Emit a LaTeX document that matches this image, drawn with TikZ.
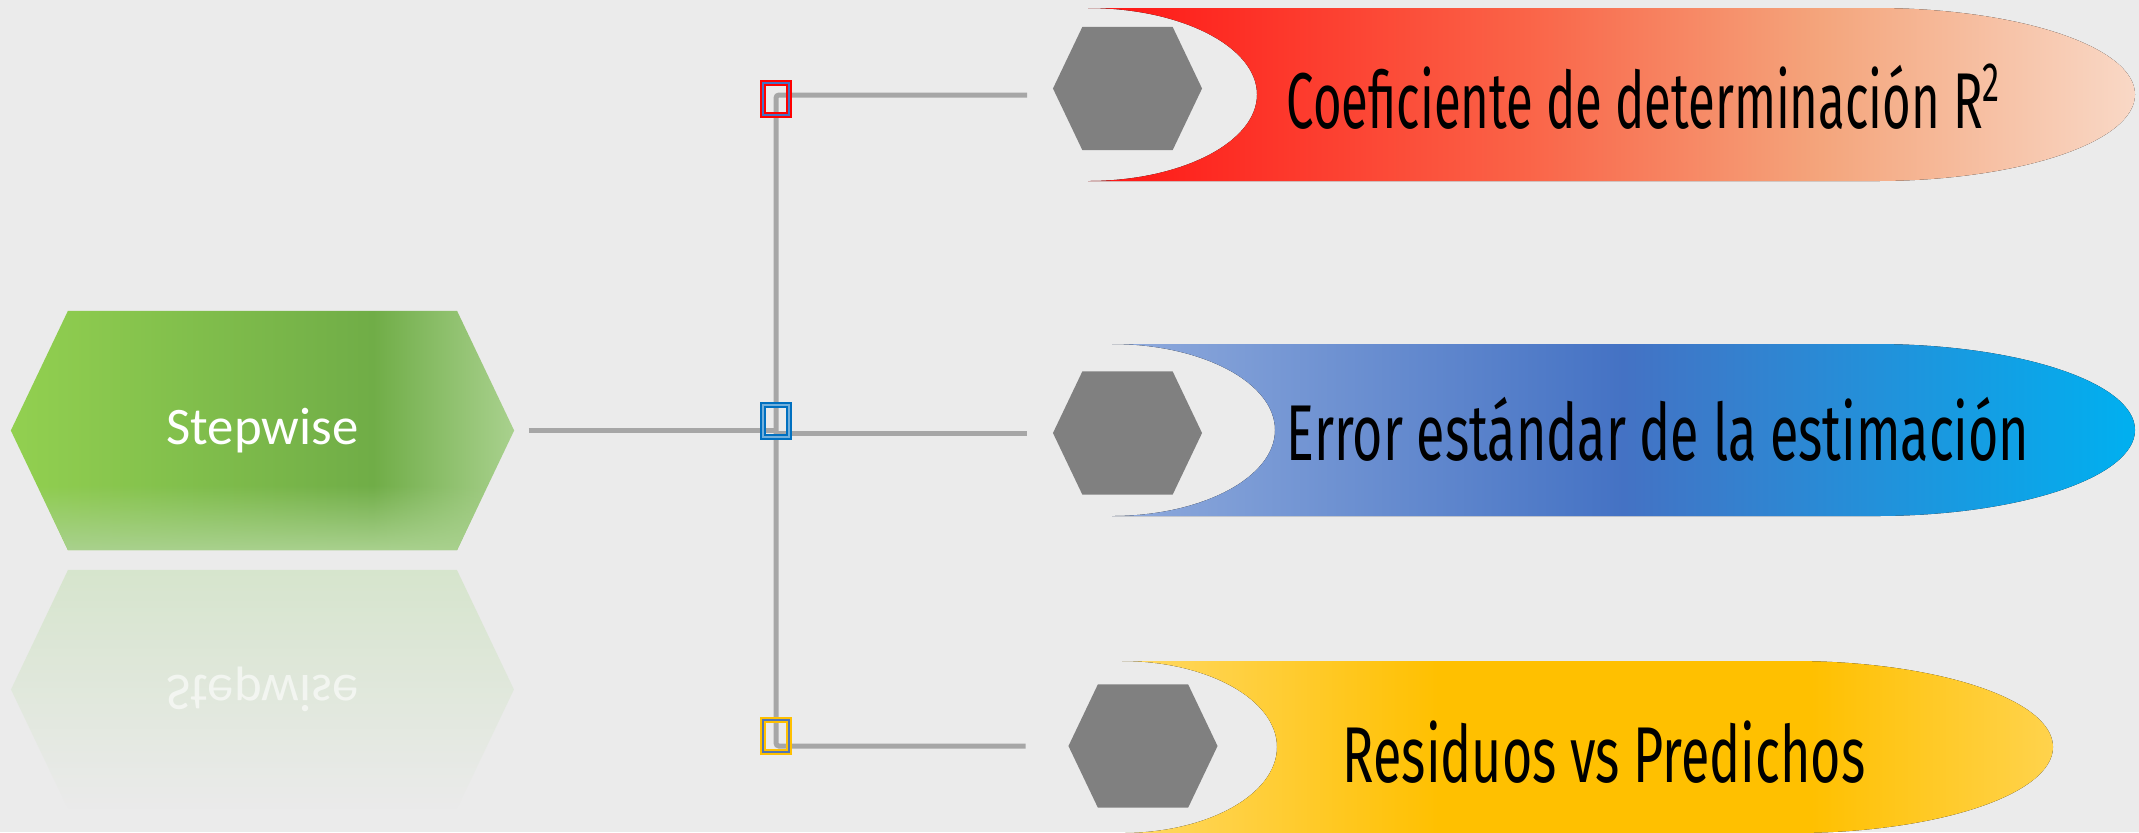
\documentclass[tikz,border=0pt]{standalone}
\usepackage{fontspec}
\setmainfont{Carlito}
\newfontfamily\bannerfont[FakeStretch=0.62]{Fira Sans}
\usetikzlibrary{shapes.symbols,fadings,backgrounds,positioning}

\definecolor{bgGray}{RGB}{235,235,235}
\definecolor{lnGray}{RGB}{166,166,166}
\definecolor{hexGray}{RGB}{128,128,128}
\definecolor{gA}{HTML}{92D050}
\definecolor{gB}{HTML}{70AD47}
\definecolor{gC}{HTML}{A9D18E}
\definecolor{gPale}{HTML}{A9D18E}
\definecolor{gRefl}{HTML}{C5E0B4}
\definecolor{mkRed}{HTML}{FF0000}
\definecolor{mkBlue}{HTML}{0070C0}
\definecolor{mkYel}{HTML}{FFC000}
\definecolor{mkIn}{HTML}{4472C4}
\definecolor{rA}{HTML}{FF1414}
\definecolor{rB}{HTML}{FA6448}
\definecolor{rC}{HTML}{F4A57C}
\definecolor{rD}{HTML}{F9D8C6}
\definecolor{bA}{HTML}{8FAADC}
\definecolor{bC}{HTML}{00B0F0}

% Shadings of the banners
\pgfdeclarehorizontalshading{redband}{100bp}{color(0bp)=(rA); color(25bp)=(rA); color(46bp)=(rB); color(60bp)=(rC); color(75bp)=(rD); color(100bp)=(rD)}
\pgfdeclarehorizontalshading{blueband}{100bp}{color(0bp)=(bA); color(25bp)=(bA); color(50bp)=(mkIn); color(75bp)=(bC); color(100bp)=(bC)}
\pgfdeclarehorizontalshading{yelband}{100bp}{color(0bp)=(mkYel!60!white); color(25bp)=(mkYel!60!white); color(42bp)=(mkYel); color(62bp)=(mkYel); color(75bp)=(mkYel!70!white); color(100bp)=(mkYel!70!white)}
\pgfdeclarehorizontalshading{greenbody}{100bp}{color(0bp)=(gA); color(25bp)=(gA); color(61bp)=(gB); color(75bp)=(gC); color(100bp)=(gC)}

\tikzfading[name=lowfade, top color=transparent!100, bottom color=transparent!0]
\tikzfading[name=reflfade, top color=transparent!40, bottom color=transparent!100]

\begin{document}
\begin{tikzpicture}[x=0.01cm,y=-0.01cm,
  conn/.style={draw=lnGray, line width=0.05cm},
  grayhex/.style={signal, signal to=east and west, signal pointer angle=129,
    fill=hexGray, minimum width=1.49cm, minimum height=1.23cm, inner sep=0pt},
  marker/.style={rectangle, minimum width=0.26cm, minimum height=0.32cm,
    inner sep=0pt, line width=0.022cm, double distance=0.014cm},
  bannertext/.style={anchor=base west, inner sep=0pt,
    font=\bannerfont\fontsize{22.5}{27}\selectfont}]
\useasboundingbox (0,0) rectangle (2139,832);

% Background
\begin{scope}[on background layer]
\fill[bgGray] (0,0) rectangle (2139,832);
\end{scope}

% Banners
\fill[shading=redband] (1088,8) -- (1875,8)
  arc[start angle=-90, end angle=90, x radius=260, y radius=86.5] -- (1088,181)
  arc[start angle=90, end angle=-90, x radius=169, y radius=86.5] -- cycle;
\fill[shading=blueband] (1112,344) -- (1875,344)
  arc[start angle=-90, end angle=90, x radius=260, y radius=86] -- (1112,516)
  arc[start angle=90, end angle=-90, x radius=163, y radius=86] -- cycle;
\begin{scope}
\clip (0,0) rectangle (2139,832);
\fill[shading=yelband] (1122,661) -- (1793,661)
  arc[start angle=-90, end angle=90, x radius=260, y radius=86] -- (1122,833)
  arc[start angle=90, end angle=-90, x radius=155, y radius=86] -- cycle;
\end{scope}

% Green hexagon and its reflection
\node[signal, signal to=east and west, signal pointer angle=129,
  minimum width=5.03cm, minimum height=2.39cm, inner sep=0pt,
  shading=greenbody, text=white, font=\fontsize{15}{18}\selectfont]
  (stepw) at (262.5,430.5) {Stepwise};
\fill[gPale, path fading=lowfade]
  (37,485) -- (488,485) -- (457,550) -- (68,550) -- cycle;
\fill[gRefl, opacity=0.9, path fading=reflfade]
  (11,689.5) -- (68,570) -- (457,570) -- (514,689.5) -- (457,809) -- (68,809) -- cycle;
\node[text=white, opacity=0.6, font=\fontsize{15}{18}\selectfont] (stepwrefl) at (262.5,689) {\scalebox{1}[-1]{Stepwise}};

% Gray hexagons
\node[grayhex] (hexR) at (1127.5,88.5) {};
\node[grayhex] (hexB) at (1127.5,433) {};
\node[grayhex] (hexY) at (1143,746) {};

% Markers
\node[marker, draw=mkRed, double=mkIn] (mkR) at (776,99) {};
\node[marker, draw=mkBlue, double=mkBlue!55!white] (mkB) at (776,421) {};
\node[marker, draw=mkYel, double=mkIn!75!gray] (mkY) at (776,736) {};

% Connectors
\begin{scope}[on background layer]
\draw[conn, shorten <=0.14cm] (stepw.east) -- (stepw.east -| mkB.center);
\draw[conn, rounded corners=0.03cm, shorten <=0.25cm, shorten >=0.42cm]
  ([yshift=-0.065cm]hexR.west) -| (mkB.center) |- (hexY.west);
\draw[conn, shorten >=0.25cm] (mkB.center |- hexB.west) -- (hexB.west);
\end{scope}

% Texts
\node[bannertext] (txtR) at (1286,128) {Coeficiente de determinación R\textsuperscript{2}};
\node[bannertext] (txtB) at (1286,460) {\scalebox{1.06}[1]{Error estándar de la estimación}};
\node[bannertext] (txtY) at (1342,782) {\scalebox{1.06}[1]{Residuos vs Predichos}};

\end{tikzpicture}
\end{document}
